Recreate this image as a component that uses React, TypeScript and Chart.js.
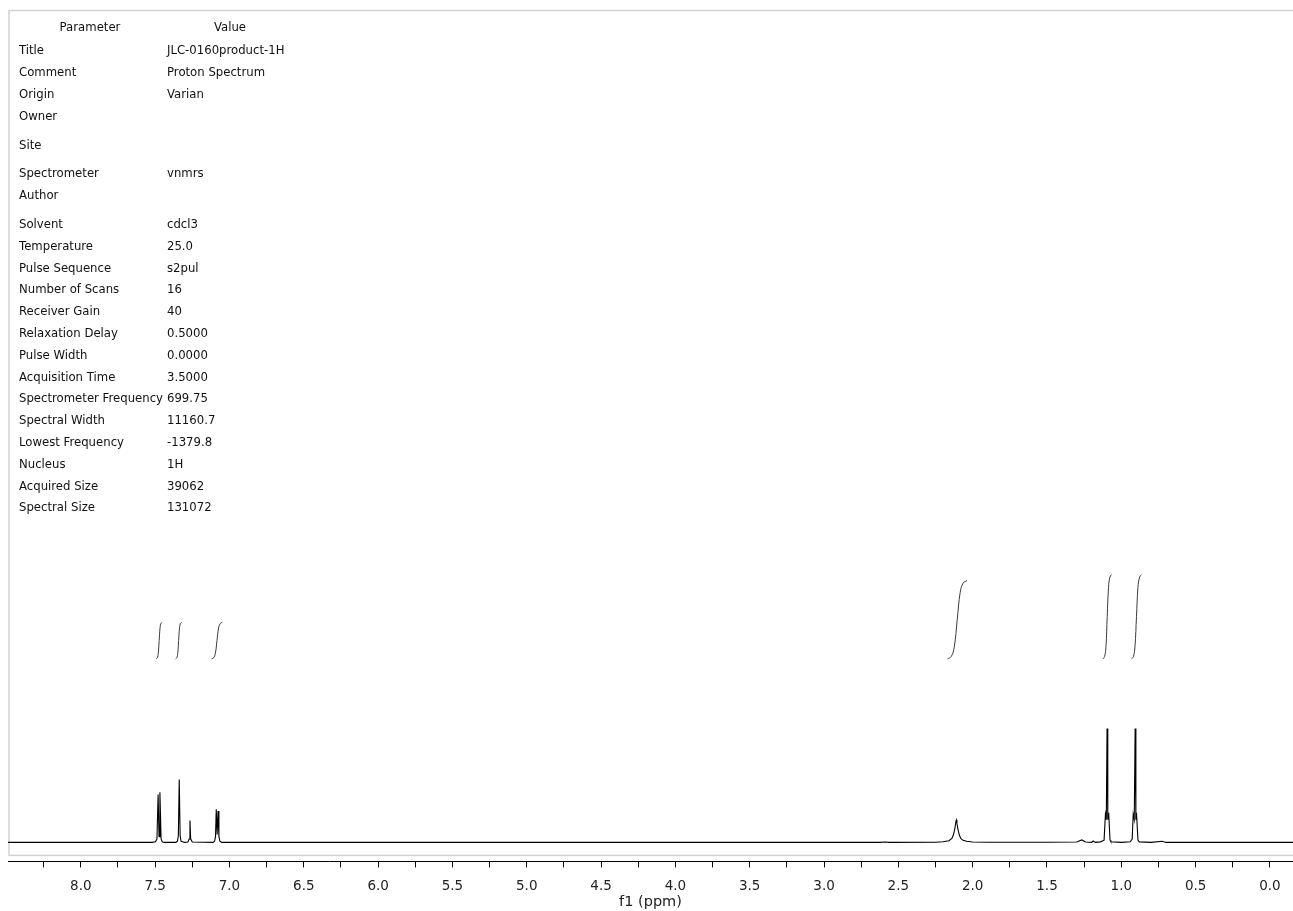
import React, { useEffect, useRef } from "react";
import { Chart, registerables } from "chart.js";

Chart.register(...registerables);

// ---------- data ----------
const spectrumPpm = [
  8.49, 7.52, 7.498, 7.488, 7.48, 7.474, 7.468, 7.46, 7.452, 7.44,
  7.36, 7.35, 7.344, 7.338, 7.332, 7.326, 7.3,
  7.28, 7.271, 7.266, 7.261, 7.25,
  7.11, 7.1, 7.094, 7.089, 7.083, 7.077, 7.071, 7.064, 7.05,
  6.0, 2.62, 2.59, 2.56, 2.25, 2.2, 2.16, 2.14, 2.13, 2.12, 2.113, 2.11, 2.106, 2.1,
  2.09, 2.08, 2.065, 2.04, 2.0, 1.9, 1.5, 1.3, 1.266, 1.24, 1.2, 1.19, 1.175,
  1.14, 1.116, 1.107, 1.101, 1.096, 1.091, 1.085, 1.076, 1.07,
  1.0, 0.94, 0.927, 0.92, 0.913, 0.907, 0.902, 0.898, 0.888, 0.88,
  0.8, 0.725, 0.7, -0.155,
];
const spectrumIntensity = [
  0, 0, 0.005, 0.03, 0.42, 0.05, 0.44, 0.03, 0.005, 0,
  0, 0.01, 0.06, 0.553, 0.06, 0.01, 0,
  0.003, 0.03, 0.193, 0.03, 0.003,
  0, 0.01, 0.05, 0.29, 0.07, 0.275, 0.05, 0.01, 0,
  0, 0, 0.004, 0, 0.002, 0.006, 0.015, 0.035, 0.065, 0.12, 0.18, 0.196, 0.17, 0.12,
  0.065, 0.035, 0.018, 0.01, 0.004, 0.001, 0.002, 0.004, 0.022, 0.004, 0, 0.012, 0,
  0.005, 0.02, 0.245, 0.2, 1.0, 0.2, 0.26, 0.02, 0.005,
  0, 0.005, 0.03, 0.245, 0.2, 1.0, 0.2, 0.26, 0.02, 0.005,
  0, 0.01, 0, 0,
];

const integral1Ppm = [7.493, 7.485, 7.479, 7.473, 7.467, 7.461, 7.453];
const integral1Val = [1.611, 1.621, 1.659, 1.772, 1.884, 1.922, 1.932];
const integral2Ppm = [7.362, 7.354, 7.348, 7.342, 7.336, 7.33, 7.322];
const integral2Val = [1.611, 1.621, 1.659, 1.772, 1.884, 1.922, 1.932];
const integral3Ppm = [7.12, 7.106, 7.095, 7.084, 7.073, 7.062, 7.048];
const integral3Val = [1.611, 1.621, 1.659, 1.772, 1.884, 1.922, 1.932];
const integral4Ppm = [2.17, 2.144, 2.124, 2.104, 2.084, 2.064, 2.038];
const integral4Val = [1.611, 1.632, 1.714, 1.955, 2.195, 2.277, 2.298];
const integral5Ppm = [1.123, 1.112, 1.103, 1.095, 1.086, 1.077, 1.066];
const integral5Val = [1.611, 1.633, 1.722, 1.981, 2.24, 2.329, 2.351];
const integral6Ppm = [0.931, 0.918, 0.908, 0.898, 0.888, 0.877, 0.864];
const integral6Val = [1.611, 1.633, 1.722, 1.981, 2.24, 2.329, 2.351];

const xMin = -0.155;
const xMax = 8.49;
const yMin = -0.1667;
const yMax = 7.307;
const xTickStep = 0.25;
const axisTitle = "f1 (ppm)";

const paramHeader = ["Parameter", "Value"];
const paramNames = [
  "Title", "Comment", "Origin", "Owner", "Site", "Spectrometer", "Author",
  "Solvent", "Temperature", "Pulse Sequence", "Number of Scans", "Receiver Gain",
  "Relaxation Delay", "Pulse Width", "Acquisition Time", "Spectrometer Frequency",
  "Spectral Width", "Lowest Frequency", "Nucleus", "Acquired Size", "Spectral Size",
];
const paramValues = [
  "JLC-0160product-1H", "Proton Spectrum", "Varian", "", "", "vnmrs", "",
  "cdcl3", "25.0", "s2pul", "16", "40",
  "0.5000", "0.0000", "3.5000", "699.75",
  "11160.7", "-1379.8", "1H", "39062", "131072",
];
const spacedRows = ["Site", "Spectrometer", "Solvent"];

// ---------- helpers ----------
const toPoints = (xs: number[], ys: number[]) => xs.map((x, i) => ({ x, y: ys[i] }));

const framePlugin = {
  id: "frame",
  beforeDatasetsDraw(chart: any) {
    const { ctx, chartArea } = chart;
    ctx.save();
    ctx.strokeStyle = "#d2d2d2";
    ctx.lineWidth = 1.5;
    ctx.strokeRect(chartArea.left + 1, chartArea.top + 0.5, chartArea.right - chartArea.left + 10, chartArea.bottom - chartArea.top - 6.5);
    ctx.restore();
  },
};

const FONT = "'DejaVu Sans', Verdana, sans-serif";

export default function App() {
  const canvasRef = useRef<HTMLCanvasElement | null>(null);

  useEffect(() => {
    if (!canvasRef.current) return;
    const integralStyle = {
      borderColor: "#3a3a3a",
      borderWidth: 1,
      pointRadius: 0,
      tension: 0.4,
      fill: false,
    };
    const chart = new Chart(canvasRef.current, {
      type: "line",
      data: {
        datasets: [
          {
            label: "spectrum",
            data: toPoints(spectrumPpm, spectrumIntensity),
            borderColor: "#000000",
            borderWidth: 1.1,
            pointRadius: 0,
            tension: 0,
            fill: false,
          },
          { label: "int1", data: toPoints(integral1Ppm, integral1Val), ...integralStyle },
          { label: "int2", data: toPoints(integral2Ppm, integral2Val), ...integralStyle },
          { label: "int3", data: toPoints(integral3Ppm, integral3Val), ...integralStyle },
          { label: "int4", data: toPoints(integral4Ppm, integral4Val), ...integralStyle },
          { label: "int5", data: toPoints(integral5Ppm, integral5Val), ...integralStyle },
          { label: "int6", data: toPoints(integral6Ppm, integral6Val), ...integralStyle },
        ],
      },
      options: {
        animation: false,
        responsive: true,
        maintainAspectRatio: false,
        layout: { padding: { left: 8, top: 10, right: 0, bottom: 0 } },
        plugins: { legend: { display: false }, tooltip: { enabled: false } },
        scales: {
          x: {
            type: "linear",
            reverse: true,
            min: xMin,
            max: xMax,
            grid: { drawOnChartArea: false, drawTicks: true, tickLength: 6, color: "#000" },
            border: { display: true, color: "#000", width: 1 },
            ticks: {
              stepSize: xTickStep,
              includeBounds: false,
              autoSkip: false,
              maxRotation: 0,
              padding: 11,
              color: "#222",
              font: { family: FONT, size: 13.5 },
              callback: (v: any) => {
                const n = Number(v);
                return Math.round(n * 4) % 2 === 0 ? n.toFixed(1) : "";
              },
            },
            title: {
              display: true,
              text: axisTitle,
              color: "#222",
              font: { family: FONT, size: 14.5 },
              padding: { top: -12, bottom: 0 },
            },
          },
          y: { display: false, min: yMin, max: yMax },
        },
      },
      plugins: [framePlugin],
    });
    return () => chart.destroy();
  }, []);

  let top = 20.5;
  const rows = paramNames.map((name, i) => {
    top += 21.8 + (spacedRows.includes(name) ? 7 : 0);
    return (
      <React.Fragment key={name}>
        <div style={{ position: "absolute", left: 19, top: top, lineHeight: "16px", whiteSpace: "nowrap" }}>{name}</div>
        <div style={{ position: "absolute", left: 167, top: top, lineHeight: "16px", whiteSpace: "nowrap" }}>{paramValues[i]}</div>
      </React.Fragment>
    );
  });

  return (
    <div style={{ position: "relative", width: 1293, height: 911, overflow: "hidden" }}>
      <style>{`body{margin:0;overflow:hidden;}`}</style>
      <canvas ref={canvasRef} />
      <div style={{ position: "absolute", left: 0, top: 0, fontFamily: FONT, fontSize: 11.7, color: "#111" }}>
        <div style={{ position: "absolute", left: 14, top: 19, width: 152, textAlign: "center", lineHeight: "16px" }}>{paramHeader[0]}</div>
        <div style={{ position: "absolute", left: 166, top: 19, width: 128, textAlign: "center", lineHeight: "16px" }}>{paramHeader[1]}</div>
        {rows}
      </div>
    </div>
  );
}
